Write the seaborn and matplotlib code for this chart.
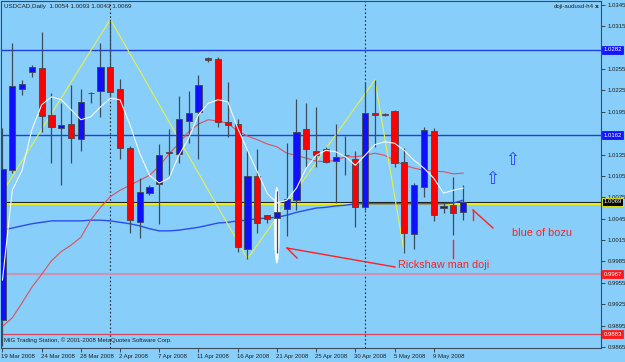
import matplotlib
matplotlib.use("Agg")
import matplotlib.pyplot as plt
import matplotlib.transforms as mtransforms
from matplotlib.patches import Ellipse
import numpy as np
import pandas as pd
import seaborn as sns

# ---------------- data ----------------
dates = ["19 Mar 2008", "24 Mar 2008", "28 Mar 2008", "2 Apr 2008", "7 Apr 2008",
         "11 Apr 2008", "16 Apr 2008", "21 Apr 2008", "25 Apr 2008", "30 Apr 2008",
         "5 May 2008", "9 May 2008"]
date_bars = [0, 4, 8, 12, 16, 20, 24, 28, 32, 36, 40, 44]

opens = [0.9903, 1.0113, 1.0227, 1.0251, 1.0257, 1.0191, 1.0172, 1.0178, 1.0157, 1.0222,
         1.0224, 1.0258, 1.0227, 1.0144, 1.0040, 1.0081, 1.0094, 1.0138, 1.0136, 1.0182,
         1.0195, 1.0270, 1.0269, 1.0181, 1.0178, 1.0003, 1.0105, 1.0050, 1.0046, 1.0059,
         1.0071, 1.0171, 1.0140, 1.0143, 1.0126, 1.0135, 1.0129, 1.0062, 1.0193, 1.0192,
         1.0196, 1.0125, 1.0024, 1.0090, 1.0168, 1.0060, 1.0064, 1.0054]
highs = [1.0172, 1.0292, 1.0240, 1.0261, 1.0307, 1.0221, 1.0207, 1.0233, 1.0227, 1.0223,
         1.0292, 1.0325, 1.0241, 1.0147, 1.0102, 1.0092, 1.0150, 1.0171, 1.0217, 1.0224,
         1.0247, 1.0272, 1.0272, 1.0237, 1.0185, 1.0142, 1.0143, 1.0050, 1.0084, 1.0151,
         1.0213, 1.0207, 1.0202, 1.0146, 1.0178, 1.0161, 1.0140, 1.0237, 1.0240, 1.0194,
         1.0198, 1.0144, 1.0095, 1.0174, 1.0172, 1.0067, 1.0104, 1.0093]
lows = [0.9866, 1.0109, 1.0219, 1.0244, 1.0167, 1.0123, 1.0092, 1.0123, 1.0140, 1.0207,
        1.0188, 1.0216, 1.0129, 1.0025, 1.0018, 1.0078, 1.0038, 1.0104, 1.0123, 1.0151,
        1.0129, 1.0265, 1.0174, 1.0160, 0.9999, 0.9989, 1.0025, 1.0039, 0.9997, 1.0021,
        1.0057, 1.0118, 1.0118, 1.0123, 1.0067, 1.0106, 1.0033, 1.0057, 1.0146, 1.0189,
        1.0118, 0.9997, 1.0003, 1.0076, 1.0042, 1.0053, 1.0022, 1.0043]
closes = [1.0115, 1.0231, 1.0234, 1.0258, 1.0189, 1.0174, 1.0177, 1.0158, 1.0209, 1.0221,
          1.0258, 1.0223, 1.0144, 1.0043, 1.0083, 1.0090, 1.0135, 1.0137, 1.0185, 1.0193,
          1.0233, 1.0268, 1.0181, 1.0177, 1.0005, 1.0105, 1.0039, 1.0045, 1.0055, 1.0073,
          1.0167, 1.0143, 1.0134, 1.0125, 1.0132, 1.0134, 1.0061, 1.0193, 1.0190, 1.0191,
          1.0123, 1.0025, 1.0092, 1.0170, 1.0050, 1.0063, 1.0053, 1.0069]

ma_fast = [0.9959, 1.0085, 1.0113, 1.0170, 1.0205, 1.0216, 1.0212, 1.0198, 1.0184, 1.0188,
           1.0202, 1.0214, 1.0212, 1.0177, 1.0137, 1.0106, 1.0095, 1.0102, 1.0134, 1.0158,
           1.0191, 1.0207, 1.0212, 1.0209, 1.0172, 1.0141, 1.0111, 1.0081, 1.0067, 1.0071,
           1.0088, 1.0116, 1.0134, 1.0141, 1.0139, 1.0132, 1.0120, 1.0134, 1.0149, 1.0153,
           1.0151, 1.0141, 1.0127, 1.0116, 1.0102, 1.0081, 1.0085, 1.0088]
ma_mid = [0.9894, 0.9906, 0.9927, 0.9949, 0.9967, 0.9986, 0.9999, 1.0008, 1.0019, 1.0043,
          1.0061, 1.0076, 1.0085, 1.0092, 1.0099, 1.0106, 1.0119, 1.0136, 1.0151, 1.0167,
          1.0178, 1.0184, 1.0182, 1.0179, 1.0168, 1.0161, 1.0156, 1.0150, 1.0146, 1.0137,
          1.0134, 1.0130, 1.0126, 1.0125, 1.0127, 1.0132, 1.0132, 1.0134, 1.0137, 1.0134,
          1.0127, 1.0120, 1.0116, 1.0113, 1.0112, 1.0111, 1.0108, 1.0109]
ma_slow = [1.0029, 1.0032, 1.0035, 1.0038, 1.0040, 1.0042, 1.0042, 1.0042, 1.0042, 1.0043,
           1.0043, 1.0042, 1.0040, 1.0038, 1.0035, 1.0031, 1.0028, 1.0028, 1.0029, 1.0031,
           1.0033, 1.0036, 1.0039, 1.0040, 1.0042, 1.0043, 1.0045, 1.0046, 1.0047, 1.0050,
           1.0054, 1.0057, 1.0060, 1.0061, 1.0063, 1.0064, 1.0066, 1.0066, 1.0066, 1.0066,
           1.0066, 1.0066, 1.0066, 1.0066, 1.0066, 1.0066, 1.0067, 1.0071]

zz_bars = [-1, 11, 25, 38, 41]
zz_prices = [1.0060, 1.0325, 0.9989, 1.0240, 0.9997]

month_sep_bars = [11, 37]

yticks = [1.0345, 1.0315, 1.0285, 1.0255, 1.0225, 1.0195, 1.0165, 1.0135, 1.0105,
          1.0075, 1.0045, 1.0015, 0.9985, 0.9955, 0.9925, 0.9895, 0.9865]
# tick labels hidden behind the price-level boxes in the reference
hidden_ticks = [1.0285, 1.0165]

hlines = [1.0282, 1.0162, 1.0069, 0.9967, 0.9883]
hline_labels = ["1.0282", "1.0162", "1.0069", "0.9967", "0.9883"]
yellow_level = 1.0066

# ---------------- figure ----------------
BG = "#87CEFA"
W, H = 625, 362
fig = plt.figure(figsize=(W / 100, H / 100), dpi=100)
fig.patch.set_facecolor(BG)
ax = fig.add_axes([1.5 / W, 14 / H, 599.5 / W, 347 / H])
ax.set_facecolor(BG)

n = len(closes)
idx = np.arange(n)
df = pd.DataFrame({"bar": idx, "open": opens, "high": highs, "low": lows,
                   "close": closes, "fast": ma_fast, "mid": ma_mid, "slow": ma_slow})

# month separators
for b in month_sep_bars:
    ax.axvline(b, color="#2a2a2a", lw=0.8, ls=(0, (1.5, 2)), zorder=1)

# horizontal levels
ax.axhline(hlines[0], color="#1f3fe0", lw=1.0, zorder=1)
ax.axhline(hlines[1], color="#1f3fe0", lw=1.0, zorder=1)
ax.axhline(hlines[3], color="#c896b4", lw=1.6, zorder=1)
ax.axhline(hlines[4], color="#d2465a", lw=0.9, zorder=1)
ax.axhline(hlines[2], color="#222222", lw=0.8, zorder=1)
ax.axhline(yellow_level, color="#f2f200", lw=1.3, zorder=1)

# moving averages and zigzag via seaborn
sns.lineplot(data=df, x="bar", y="slow", ax=ax, color="#2a4cf0", lw=1.0, zorder=2)
sns.lineplot(data=df, x="bar", y="mid", ax=ax, color="#e0505a", lw=0.8, zorder=2)
sns.lineplot(x=zz_bars, y=zz_prices, ax=ax, color="#e6f04a", lw=0.8, zorder=2)

# rickshaw highlight (white ellipse)
ax.add_patch(Ellipse((28, 1.0036), 0.55, 0.0107, facecolor="white", edgecolor="#e8f4ff",
                     lw=0.5, zorder=3))

# candles
wick_c = "#3b4c5c"
for i in range(n):
    o, h, l, c = opens[i], highs[i], lows[i], closes[i]
    col = "#1010ff" if c >= o else "#ff0000"
    ax.vlines(i, l, h, color=wick_c, lw=0.9, zorder=4)
    bot = min(o, c)
    ht = max(abs(c - o), 0.00008)
    ax.bar(i, ht, bottom=bot, width=0.62, color=col, edgecolor="#404850",
           linewidth=0.6, zorder=5)

sns.lineplot(data=df, x="bar", y="fast", ax=ax, color="#f4f8ff", lw=0.8, zorder=6)

# limits
ax.set_xlim(-0.1, 61.07)
ax.set_ylim(0.98636, 1.03506)
ax.set_xlabel("")
ax.set_ylabel("")
ax.grid(False)

# axes styling
for s in ax.spines.values():
    s.set_color("#3a4a5a")
    s.set_linewidth(0.8)

ax.yaxis.tick_right()
ax.set_yticks(yticks)
ax.set_yticklabels(["" if v in hidden_ticks else f"{v:.4f}" for v in yticks],
                   family="Liberation Sans", fontsize=4.3, color="#202020")
ax.tick_params(axis="y", length=3, width=0.6, color="#303030", pad=1.5)

ax.set_xticks(date_bars)
ax.set_xticklabels(dates, family="Liberation Sans", fontsize=4.3, color="#202020", ha="left")
ax.tick_params(axis="x", length=3, width=0.6, color="#303030", pad=1.5)
for lbl in ax.get_xticklabels():
    lbl.set_transform(lbl.get_transform() + mtransforms.ScaledTranslation(-1 / 100, 0, fig.dpi_scale_trans))

# right-side price labels
trans = mtransforms.blended_transform_factory(ax.transAxes, ax.transData)
box_cols = ["#1414ff", "#1414ff", "#000000", "#ff1a1a", "#ff1a1a"]
for v, t, bc in zip(hlines, hline_labels, box_cols):
    ax.text(1.004, v, t, transform=trans, ha="left", va="center", fontsize=4.3,
            family="Liberation Sans", color="white", clip_on=False, zorder=10,
            bbox=dict(boxstyle="square,pad=0.25", facecolor=bc,
                      edgecolor="#f2f200" if t == "1.0069" else bc, lw=0.6))

# texts
ax.text(0.004, 0.985, "USDCAD,Daily  1.0054 1.0093 1.0043 1.0069", transform=ax.transAxes,
        ha="left", va="center", fontsize=4.5, family="Liberation Sans", color="#202020")
ax.text(0.988, 0.985, "doji-audusd-h4", transform=ax.transAxes, ha="right", va="center",
        fontsize=4.3, family="Liberation Sans", color="#202020")
ax.text(0.996, 0.985, "x", transform=ax.transAxes, ha="right", va="center",
        fontsize=4.3, family="DejaVu Sans", color="#202020", weight="bold")
ax.text(0.004, 0.023, "MIG Trading Station, \u00a9 2001-2008 MetaQuotes Software Corp.",
        transform=ax.transAxes, ha="left", va="center", fontsize=4.3,
        family="Liberation Sans", color="#202020")

# annotations
red = "#ff2020"
ax.plot([40.05, 29.03], [0.99773, 1.00039], color=red, lw=1.0, zorder=7)
ax.plot([29.03, 30.05], [1.00039, 0.99899], color=red, lw=1.0, zorder=7)
ax.text(40.4, 0.99801, "Rickshaw man doji", color=red, fontsize=7.8,
        family="Liberation Sans", ha="left", va="center", zorder=7)
ax.plot([46, 46], [1.00152, 0.99899], color=red, lw=1.0, zorder=7)
ax.plot([48.0, 48.0], [1.00573, 1.00432], color=red, lw=1.0, zorder=7)
ax.plot([48.0, 50.05], [1.00573, 1.0032], color=red, lw=1.0, zorder=7)
ax.text(52.0, 1.0025, "blue of bozu", color=red, fontsize=7.8,
        family="Liberation Sans", ha="left", va="center", zorder=7)

ax.text(51.96, 1.01275, "\u21e7", color="#2040ff", fontsize=12, family="DejaVu Sans",
        ha="center", va="center", zorder=7)
ax.text(49.95, 1.01008, "\u21e7", color="#2040ff", fontsize=12, family="DejaVu Sans",
        ha="center", va="center", zorder=7)

fig.savefig("out.png", dpi=100, facecolor=BG)
